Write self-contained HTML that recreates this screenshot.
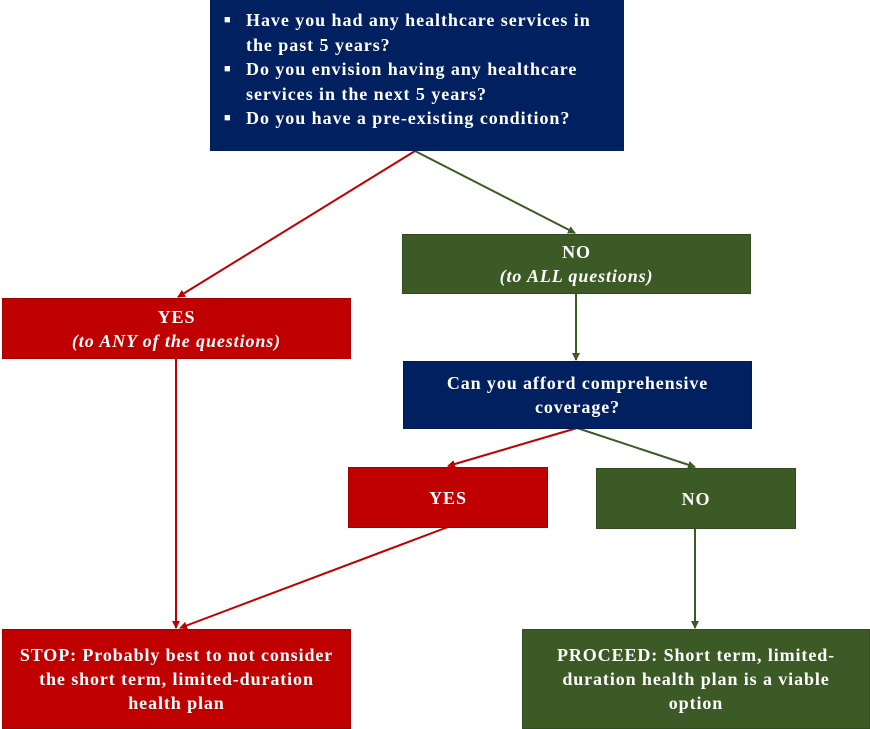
<!DOCTYPE html>
<html><head><meta charset="utf-8"><style>
body{margin:0;width:870px;height:729px;background:#fff;position:relative;overflow:hidden;font-family:"Liberation Serif",serif;font-weight:bold;color:#fff}
.b{position:absolute;box-sizing:border-box;display:flex;flex-direction:column;align-items:center;justify-content:center;text-align:center;font-size:18px;letter-spacing:0.9px;line-height:24px;border:1px solid rgba(0,0,0,.15);white-space:nowrap}
.n{background:#002060}.r{background:#C00000}.g{background:#3C5A25}
i{font-style:italic}
svg{position:absolute;left:0;top:0}
.top{position:absolute;left:210px;top:0;width:414px;height:151px;background:#002060;font-size:18px;letter-spacing:0.95px;line-height:24.5px;white-space:nowrap}
.top div{position:absolute;left:36px}
.top span{position:absolute;left:-22px;font-size:11px;letter-spacing:0}
</style></head><body>
<svg width="870" height="729">
<defs>
<marker id="ar" markerWidth="8" markerHeight="8" refX="7" refY="4" orient="auto" markerUnits="userSpaceOnUse"><path d="M0,0L8,4L0,8z" fill="#C00000"/></marker>
<marker id="ag" markerWidth="8" markerHeight="8" refX="7" refY="4" orient="auto" markerUnits="userSpaceOnUse"><path d="M0,0L8,4L0,8z" fill="#3C5A25"/></marker>
</defs>
<g stroke-width="2" fill="none">
<line x1="415" y1="151" x2="178" y2="297" stroke="#C00000" marker-end="url(#ar)"/>
<line x1="415" y1="151" x2="575" y2="233" stroke="#3C5A25" marker-end="url(#ag)"/>
<line x1="576" y1="294" x2="576" y2="360" stroke="#3C5A25" marker-end="url(#ag)"/>
<line x1="577" y1="428" x2="448" y2="466" stroke="#C00000" marker-end="url(#ar)"/>
<line x1="577" y1="428" x2="695" y2="467" stroke="#3C5A25" marker-end="url(#ag)"/>
<line x1="176" y1="358" x2="176" y2="628" stroke="#C00000" marker-end="url(#ar)"/>
<line x1="448" y1="527" x2="180" y2="628" stroke="#C00000" marker-end="url(#ar)"/>
<line x1="695" y1="528" x2="695" y2="628" stroke="#3C5A25" marker-end="url(#ag)"/>
</g></svg>
<div class="top">
<div style="top:8px"><span>■</span>Have you had any healthcare services in<br>the past 5 years?</div>
<div style="top:57px"><span>■</span>Do you envision having any healthcare<br>services in the next 5 years?</div>
<div style="top:106px"><span>■</span>Do you have a pre-existing condition?</div>
</div>
<div class="b g" style="left:402px;top:234px;width:349px;height:60px">NO<i>(to ALL questions)</i></div>
<div class="b r" style="left:2px;top:298px;width:349px;height:61px">YES<i>(to ANY of the questions)</i></div>
<div class="b n" style="left:403px;top:361px;width:349px;height:68px">Can you afford comprehensive<br>coverage?</div>
<div class="b r" style="left:348px;top:467px;width:200px;height:61px">YES</div>
<div class="b g" style="left:596px;top:468px;width:200px;height:61px">NO</div>
<div class="b r" style="left:2px;top:629px;width:349px;height:100px">STOP: Probably best to not consider<br>the short term, limited-duration<br>health plan</div>
<div class="b g" style="left:522px;top:629px;width:348px;height:100px">PROCEED: Short term, limited-<br>duration health plan is a viable<br>option</div>
</body></html>
